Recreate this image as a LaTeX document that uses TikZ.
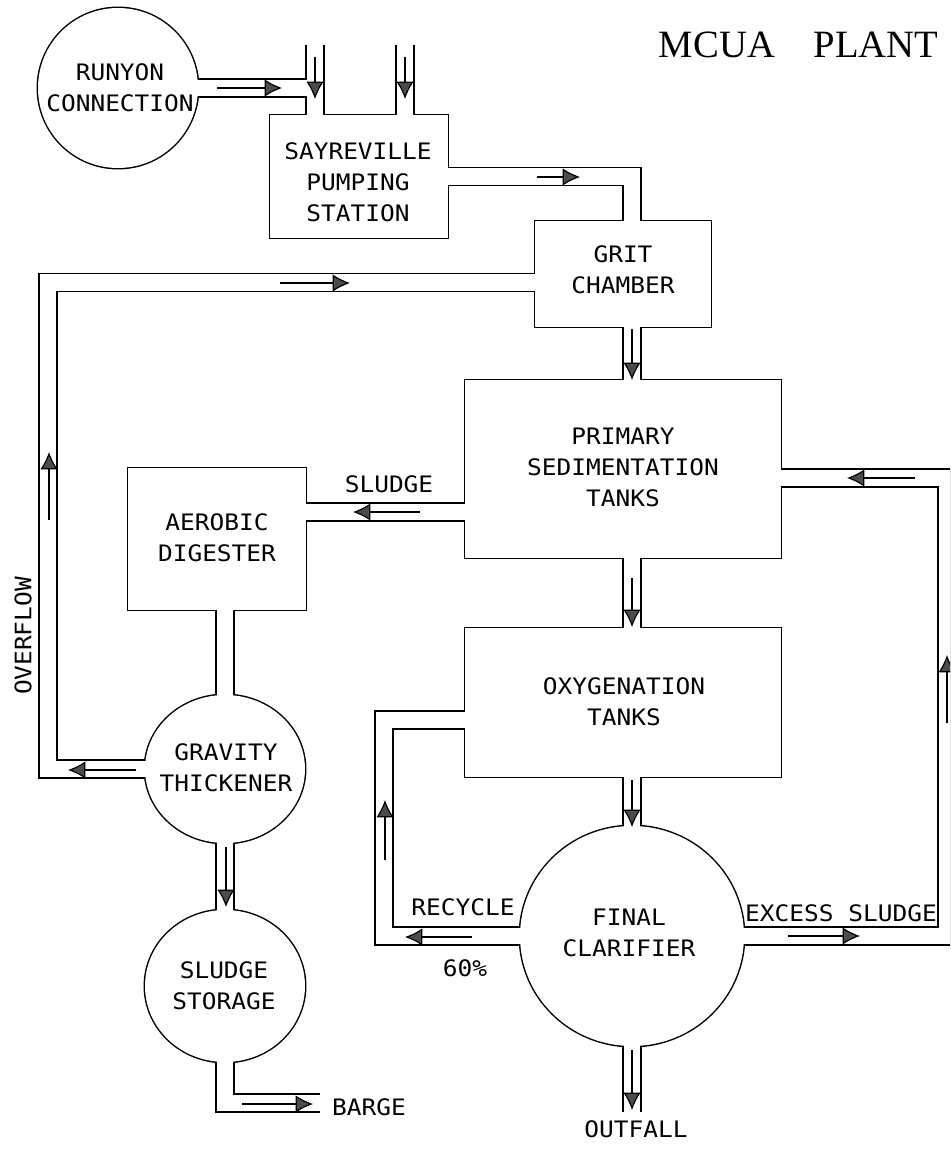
\documentclass[tikz,border=0pt]{standalone}
\usepackage{fontspec}
\newfontfamily\plotfont{DejaVu Sans Mono}[FakeStretch=1.08]
\newfontfamily\titlefont{Liberation Serif}
\usetikzlibrary{arrows.meta,shapes.geometric}
\newcommand\pxu{0.75pt}
\tikzset{
 boxtank/.style={rectangle,inner sep=0pt,outer sep=0pt},
 roundtank/.style={ellipse,inner sep=0pt,outer sep=0pt},
 tankink/.style={draw=black,line width=2.2pt},
 tankpaper/.style={draw=none,fill=white},
 pipeink/.style={draw=black,line width=14.6pt,line cap=butt,line join=miter},
 pipepaper/.style={draw=white,line width=12.4pt,line cap=butt,line join=miter},
 lbl/.style={font=\plotfont\fontsize{17pt}{23.25pt}\selectfont,align=center,inner sep=0pt},
 ttl/.style={font=\titlefont\fontsize{29pt}{34pt}\selectfont,inner sep=0pt},
 flow/.style={line width=0.9pt,-{Latex[length=13pt,width=13pt,fill=black!70]}},
}
\newcommand\tankset[2]{%
 \node[roundtank,#1,minimum width=160*\pxu,minimum height=160*\pxu] (runyon#2) at (118,88) {};
 \node[boxtank,#1,minimum width=178*\pxu,minimum height=123*\pxu] (sayreville#2) at (359,176.5) {};
 \node[boxtank,#1,minimum width=176*\pxu,minimum height=106*\pxu] (grit#2) at (623,274) {};
 \node[boxtank,#1,minimum width=316*\pxu,minimum height=178*\pxu] (primary#2) at (623,469) {};
 \node[boxtank,#1,minimum width=178*\pxu,minimum height=142*\pxu] (aerobic#2) at (217,539) {};
 \node[boxtank,#1,minimum width=316*\pxu,minimum height=149*\pxu] (oxy#2) at (623,702.5) {};
 \node[roundtank,#1,minimum width=160*\pxu,minimum height=148*\pxu] (thick#2) at (225,769) {};
 \node[roundtank,#1,minimum width=160*\pxu,minimum height=152*\pxu] (storage#2) at (225,986) {};
 \node[roundtank,#1,minimum width=224*\pxu,minimum height=220*\pxu] (clar#2) at (632,936) {};
}
\newcommand\pipework[1]{%
 \draw[#1] (runyon.center) -- (runyon.center -| in1);
 \draw[#1] (in1) -- (in1 |- sayreville.center);
 \draw[#1] (in2) -- (in2 |- sayreville.center);
 \draw[#1] (sayreville.center) -- (sayreville.center -| col) -- (grit.center -| col);
 \draw[#1] (grit.center -| col) -- (primary.center -| col);
 \draw[#1] (primary.center -| col) -- (oxy.center -| col);
 \draw[#1] (oxy.center -| col) -- (clar.center);
 \draw[#1] (clar.center) -- (outEnd);
 \draw[#1] (primary.center |- sl) -- (aerobic.center |- sl);
 \draw[#1] (aerobic.center -| thick.center) -- (thick.center);
 \draw[#1] (thick.center) -- (storage.center);
 \draw[#1] (storage.center) -- (storage.center |- bargeEnd) -- (bargeEnd);
 \draw[#1] (thick.center) -- (thick.center -| ov) -- (ov) -- (ov -| grit.center);
 \draw[#1] (clar.center) -- (clar.center -| rc) -- (rc) -- (rc -| oxy.center);
 \draw[#1] (clar.center) -- (clar.center -| xs) -- (xs) -- (xs -| primary.center);
}
\newcommand\flowarrow[3]{\coordinate (#1s) at #2; \coordinate (#1e) at #3; \draw[flow] (#1s) -- (#1e);}
\begin{document}
\begin{tikzpicture}[x=0.75pt,y=-0.75pt]
\useasboundingbox (0,0) rectangle (950,1167);
\clip (0,0) rectangle (950,1167);
\coordinate (in1) at (315,45);
\coordinate (in2) at (405,45);
\coordinate (col) at (632,0);
\coordinate (sl) at (0,512);
\coordinate (ov) at (48,282.5);
\coordinate (rc) at (384,720);
\coordinate (xs) at (947,478);
\coordinate (outEnd) at (632,1112);
\coordinate (bargeEnd) at (320,1103);
\tankset{tankink}{}
\pipework{pipeink}
\tankset{tankpaper}{w}
\pipework{pipepaper}
% labels
\node[ttl] (title1) at (717,45) {MCUA};
\node[ttl] (title2) at (876,45) {PLANT};
\node[lbl] (lRunyon) at (120,88) {RUNYON\\CONNECTION};
\node[lbl] (lSay) at (358,182) {SAYREVILLE\\PUMPING\\STATION};
\node[lbl] (lGrit) at (623,269.5) {GRIT\\CHAMBER};
\node[lbl] (lPrim) at (623,467.5) {PRIMARY\\SEDIMENTATION\\TANKS};
\node[lbl] (lSludge) at (389,484) {SLUDGE};
\node[lbl] (lAer) at (217,537.5) {AEROBIC\\DIGESTER};
\node[lbl,rotate=90] (lOver) at (23,636) {OVERFLOW};
\node[lbl] (lOxy) at (624,702) {OXYGENATION\\TANKS};
\node[lbl] (lThick) at (226,768) {GRAVITY\\THICKENER};
\node[lbl] (lStor) at (224,986) {SLUDGE\\STORAGE};
\node[lbl] (lRec) at (463,907) {RECYCLE};
\node[lbl] (lPct) at (465,968) {60\%};
\node[lbl] (lFinal) at (629,932.5) {FINAL\\CLARIFIER};
\node[lbl] (lExcess) at (841,913) {EXCESS SLUDGE};
\node[lbl] (lBarge) at (369,1107) {BARGE};
\node[lbl] (lOut) at (636,1129) {OUTFALL};
% flow arrows
\flowarrow{a1}{(217,88)}{(282,88)}
\flowarrow{a2}{(315,57)}{(315,99)}
\flowarrow{a3}{(405,57)}{(405,99)}
\flowarrow{a4}{(537,177)}{(580,177)}
\flowarrow{a5}{(280,283)}{(350,283)}
\flowarrow{a6}{(632,329)}{(632,380)}
\flowarrow{a7}{(49,520)}{(49,452)}
\flowarrow{a8}{(420,512)}{(353,512)}
\flowarrow{a9}{(915,478)}{(847,478)}
\flowarrow{a10}{(632,578)}{(632,627)}
\flowarrow{a11}{(947,723)}{(947,655)}
\flowarrow{a12}{(136,770)}{(68,770)}
\flowarrow{a13}{(385,860)}{(385,800)}
\flowarrow{a14}{(472,937)}{(405,937)}
\flowarrow{a15}{(632,780)}{(632,827)}
\flowarrow{a16}{(788,936)}{(860,936)}
\flowarrow{a17}{(226,847)}{(226,907)}
\flowarrow{a18}{(242,1104)}{(313,1104)}
\flowarrow{a19}{(632,1050)}{(632,1110)}
\end{tikzpicture}
\end{document}
